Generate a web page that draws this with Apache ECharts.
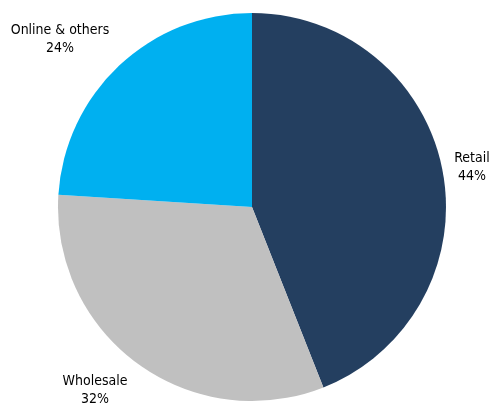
<!DOCTYPE html>
<html><head><meta charset="utf-8">
<script src="https://cdn.jsdelivr.net/npm/echarts@6/dist/echarts.min.js"></script>
<style>html,body{margin:0;padding:0;background:#fff}#c{width:490px;height:410px}</style>
</head><body><div id="c"></div>
<script>
var categories = ['Retail', 'Wholesale', 'Online & others'];
var values = [44, 32, 24];
var colors = ['#243F60', '#C0C0C0', '#00B0F0'];
var labelPos = [[472, 167], [95, 390], [60, 39]];

var chart = echarts.init(document.getElementById('c'), null, {renderer: 'canvas'});
chart.setOption({
  animation: false,
  series: [{
    type: 'pie',
    center: [252, 207],
    radius: 194,
    startAngle: 90,
    clockwise: true,
    avoidLabelOverlap: false,
    data: categories.map(function (n, i) {
      return {name: n, value: values[i], itemStyle: {color: colors[i]}};
    }),
    label: {
      show: true,
      position: 'outside',
      formatter: '{b}\n{d}%',
      fontFamily: '"DejaVu Sans Condensed", "Liberation Sans", Arial, sans-serif',
      fontSize: 14,
      lineHeight: 18,
      color: '#000',
      align: 'center',
      overflow: 'none',
      width: 200
    },
    labelLine: {show: false},
    labelLayout: function (p) {
      var pos = labelPos[p.dataIndex];
      return {x: pos[0], y: pos[1], align: 'center', verticalAlign: 'middle'};
    },
    emphasis: {disabled: true}
  }]
});
</script></body></html>
